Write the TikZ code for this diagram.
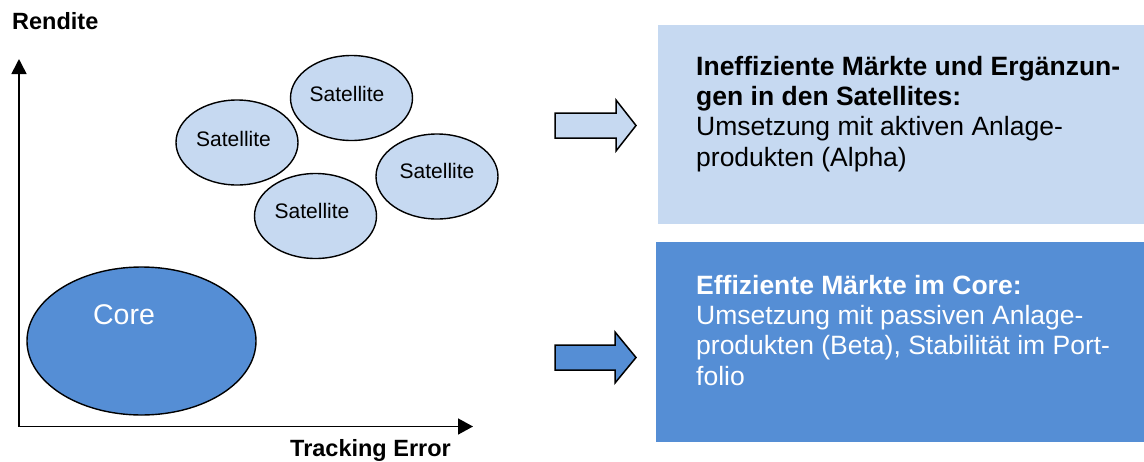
\documentclass[tikz,border=0pt]{standalone}
\usepackage{fontspec}
\setmainfont{Liberation Sans}
\usetikzlibrary{shapes.geometric,arrows.meta}
\definecolor{lightblue}{HTML}{C6D9F1}
\definecolor{coreblue}{HTML}{558ED5}
\tikzset{
  sat/.style={ellipse, draw=black, line width=1.4pt, fill=lightblue, minimum width=122pt, minimum height=85pt, inner sep=0pt},
  sattext/.style={anchor=base, inner sep=0pt, font=\fontsize{21}{25}\selectfont},
  coreell/.style={ellipse, draw=black, line width=1.4pt, fill=coreblue, minimum width=229pt, minimum height=148pt, inner sep=0pt},
  axis/.style={line width=1.6pt, {Triangle[length=15pt,width=15pt]}-{Triangle[length=15pt,width=16pt]}},
  axislabel/.style={anchor=base west, inner sep=0pt, font=\fontsize{23.5}{28}\selectfont\bfseries},
  infobox/.style={anchor=north west, inner sep=0pt, draw=none},
  infotext/.style={anchor=base west, inner sep=0pt, align=left, font=\fontsize{26.5}{30.3}\selectfont},
  blockarrow/.style={draw=black, line width=1.5pt, line join=miter},
}
\begin{document}
\begin{tikzpicture}[x=1pt,y=-1pt]
\useasboundingbox (0,0) rectangle (1144,461);
% axes
\coordinate (ytip) at (19,59);
\coordinate (orig) at (19,426.5);
\coordinate (xtip) at (473,426.5);
\draw[axis] (ytip) -- (orig) -- (xtip);
\node[axislabel] (rendite) at (12,29) {Rendite};
\node[axislabel] (te) at (290,456) {Tracking Error};
% core
\node[coreell] (core) at (141.5,341) {};
\node[anchor=base, inner sep=0pt, text=white, font=\fontsize{28.5}{33}\selectfont] (coretext) at (124,324) {Core};
% satellites
\node[sat] (s1) at (237,142.5) {};
\node[sattext] (s1t) at (233.5,146) {Satellite};
\node[sat] (s2) at (351.5,98) {};
\node[sattext] (s2t) at (347,101) {Satellite};
\node[sat] (s4) at (437,176.5) {};
\node[sattext] (s4t) at (437,178) {Satellite};
\node[sat] (s3) at (315.5,216) {};
\node[sattext] (s3t) at (312,218) {Satellite};
% boxes
\node[infobox, fill=lightblue, minimum width=486pt, minimum height=199pt] (b1) at (658,25) {};
\node[infobox, fill=coreblue, minimum width=488pt, minimum height=200pt] (b2) at (656,242) {};
% text nodes: base anchor = baseline of the last line
\node[infotext, text=black] (t1) at (696,166) {\textbf{Ineffiziente Märkte und Ergänzun-}\\\textbf{gen in den Satellites:}\\Umsetzung mit aktiven Anlage-\\produkten (Alpha)};
\node[infotext, text=white] (t2) at (696,385) {\textbf{Effiziente Märkte im Core:}\\Umsetzung mit passiven Anlage-\\produkten (Beta), Stabilität im Port-\\folio};
% block arrows
\draw[blockarrow, fill=lightblue] (555,113) -- (616,113) -- (616,100) -- (636,125.5) -- (616,151) -- (616,138) -- (555,138) -- cycle;
\draw[blockarrow, fill=coreblue] (555,345) -- (615,345) -- (615,332) -- (636,357.5) -- (615,383) -- (615,370) -- (555,370) -- cycle;
\end{tikzpicture}
\end{document}
